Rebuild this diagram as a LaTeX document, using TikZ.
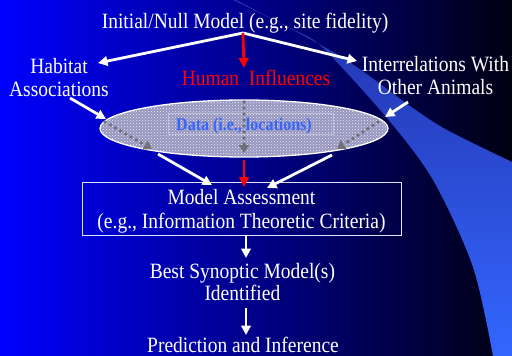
\documentclass[tikz,border=0pt]{standalone}
\usepackage{fontspec}
\setmainfont{Liberation Serif}
\usepackage{graphicx}
\usetikzlibrary{arrows.meta,shapes.geometric,patterns}
\definecolor{bgmid}{rgb}{0,0,0.69}
\definecolor{bgend}{rgb}{0,0,0.07}
\definecolor{swooshlo}{RGB}{51,102,255}
\definecolor{swooshmid}{RGB}{48,88,225}
\definecolor{swooshhi}{RGB}{35,50,170}
\definecolor{ellfill}{RGB}{150,150,192}
\definecolor{datablue}{RGB}{55,100,250}
\definecolor{rectgray}{RGB}{190,190,215}
\definecolor{dotgray}{RGB}{112,112,118}
\newcommand{\tl}[1]{\scalebox{1}[1.12]{\begin{tabular}[t]{@{}c@{}}#1\end{tabular}}}
\begin{document}
\begin{tikzpicture}[x=1pt,y=-1pt,
  lbl/.style={anchor=base,inner sep=0pt,text=white,font=\fontsize{19.5}{21.2}\selectfont},
  warrow/.style={draw=white,line width=2.8pt,-{Triangle[length=9.5pt,width=9.5pt]}},
  rarrow/.style={draw=red,line width=2.8pt,-{Triangle[length=10pt,width=9.5pt]}},
  garrow/.style={draw=dotgray,line width=3.8pt,line cap=round,dash pattern=on 0pt off 6pt,-{Triangle[length=8pt,width=10pt]}}]
\useasboundingbox (0,0) rectangle (512,356);
% background
\shade[left color=blue,middle color=bgmid,right color=bgend] (0,0) rectangle (512,356);
\shade[top color=swooshhi,middle color=swooshmid,bottom color=swooshlo]
  plot[smooth] coordinates {(233,0) (292,29) (322,47) (387,118) (433,180) (473,267) (493,356)}
  -- (512,356) -- (512,162)
  -- plot[smooth] coordinates {(512,162) (447,130) (410,106) (340,56) (236,0)} -- cycle;
% nodes
\node[lbl] (init) at (245,28.3) {\tl{Initial/Null Model (e.g., site fidelity)}};
\node[lbl] (hab) at (59,73) {\tl{Habitat\\Associations}};
\node[lbl,text=red] (human) at (256,85) {\tl{Human\ \ Influences}};
\node[lbl] (inter) at (435.5,71) {\tl{Interrelations With\\Other Animals}};
\node[ellipse,minimum width=288pt,minimum height=57pt,inner sep=0pt,draw=white,line width=1.3pt,
  fill=ellfill,postaction={pattern=crosshatch dots,pattern color=white!85!ellfill}] (data) at (244,128.5) {};
\node[draw=rectgray,line width=0.8pt,minimum width=165pt,minimum height=21pt,inner sep=0pt] (datarect) at (250.5,123.5) {};
\node[anchor=base,inner sep=0pt,text=datablue,font=\bfseries\fontsize{16}{18}\selectfont] (datatext) at (244,130.7) {\tl{Data (i.e., locations)}};
\node[draw=white!88!blue,line width=0.9pt,minimum width=319pt,minimum height=53pt,inner sep=0pt] (mabox) at (241.5,208.5) {};
\node[lbl] (ma) at (241.5,204.3) {\tl{Model Assessment\\(e.g., Information Theoretic Criteria)}};
\node[lbl] (best) at (242.4,278.3) {\tl{Best Synoptic Model(s)\\[-1.2pt]Identified}};
\node[lbl] (pred) at (243,352.7) {\tl{Prediction and Inference}};
% connector points
\coordinate (fork) at (243,33);
\coordinate (habin) at (98,63);
\coordinate (interin) at (357,61);
\coordinate (humanin) at (244,68);
\coordinate (habout) at (70,98);
\coordinate (datainL) at (106,119);
\coordinate (interout) at (408,102);
\coordinate (datainR) at (385,117);
\coordinate (gL1) at (105,122);
\coordinate (gL2) at (152,149);
\coordinate (gM1) at (244,102);
\coordinate (gM2) at (244,153);
\coordinate (gR1) at (378,122);
\coordinate (gR2) at (337,149);
\coordinate (dataoutL) at (158,154);
\coordinate (mainL) at (212,185);
\coordinate (dataoutR) at (332,155);
\coordinate (mainR) at (267,188);
\coordinate (dataoutM) at (244,160);
\coordinate (mainM) at (244,187);
\coordinate (maout) at (246,235);
\coordinate (bestin) at (246,258);
\coordinate (bestout) at (246,308);
\coordinate (predin) at (246,335);
% connectors
\draw[warrow] (fork) -- (habin);
\draw[warrow] (fork) -- (interin);
\draw[rarrow] (fork) -- (humanin);
\draw[warrow] (habout) -- (datainL);
\draw[warrow] (interout) -- (datainR);
\draw[garrow] (gL1) -- (gL2);
\draw[garrow] (gM1) -- (gM2);
\draw[garrow] (gR1) -- (gR2);
\draw[warrow] (dataoutL) -- (mainL);
\draw[warrow] (dataoutR) -- (mainR);
\draw[rarrow] (dataoutM) -- (mainM);
\draw[warrow] (maout) -- (bestin);
\draw[warrow] (bestout) -- (predin);
\end{tikzpicture}
\end{document}
